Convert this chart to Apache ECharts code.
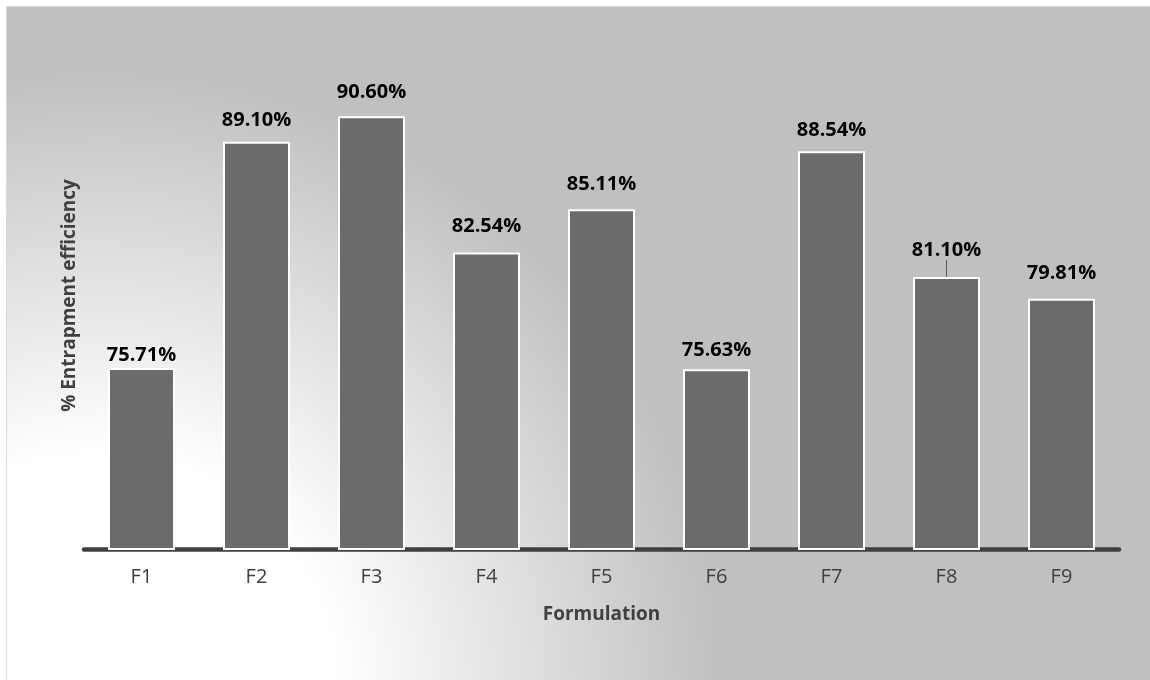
<!DOCTYPE html>
<html>
<head>
<meta charset="utf-8">
<style>html,body{margin:0;padding:0;background:#fff;}#c{width:1150px;height:680px;}</style>
<script src="https://cdn.jsdelivr.net/npm/echarts@6/dist/echarts.min.js"></script>
</head>
<body>
<div id="c"></div>
<script>
const categories = ['F1','F2','F3','F4','F5','F6','F7','F8','F9'];
const efficiency = [75.71, 89.10, 90.60, 82.54, 85.11, 75.63, 88.54, 81.10, 79.81];
const xTitle = 'Formulation';
const yTitle = '% Entrapment efficiency';

// label layout tweaks (pixels), as placed in the original
const labelLift = [0, -8, -11, -13, -12, -6, -8, -14, -12];

const chart = echarts.init(document.getElementById('c'), null, {renderer:'canvas'});
const FONT = '"Open Sans", "Noto Sans", sans-serif';
chart.setOption({
  animation: false,
  backgroundColor: '#ffffff',
  graphic: [{
    type: 'rect', z: -10, silent: true,
    shape: {x: 6.5, y: 6.5, width: 1150, height: 680},
    style: {
      fill: {type: 'radial', global: true, x: 100, y: 690, r: 620,
        colorStops: [{offset: 0, color: '#ffffff'}, {offset: 0.38, color: '#ffffff'}, {offset: 1, color: '#c0c0c0'}]},
      stroke: '#d9d9d9', lineWidth: 1
    }
  }],
  grid: {left: 84, right: 31, top: 42, bottom: 131},
  xAxis: {
    type: 'category', data: categories,
    axisLine: {lineStyle: {color: '#404040', width: 4.5}},
    axisTick: {show: false},
    axisLabel: {color: '#404040', fontFamily: FONT, fontSize: 20, margin: 18},
    name: xTitle, nameLocation: 'middle', nameGap: 56,
    nameTextStyle: {color: '#404040', fontFamily: FONT, fontSize: 19, fontWeight: 'bold'}
  },
  yAxis: {
    type: 'value', min: 65, max: 95,
    axisLine: {show: false}, axisTick: {show: false}, axisLabel: {show: false}, splitLine: {show: false},
    name: yTitle, nameLocation: 'middle', nameGap: 5,
    nameTextStyle: {color: '#404040', fontFamily: FONT, fontSize: 19, fontWeight: 'bold'}
  },
  series: [{
    type: 'bar',
    data: efficiency.map((v, i) => i === 7 ? {value: v, labelLine: {show: true}} : v),
    barWidth: 67,
    itemStyle: {color: '#6b6b6b', borderColor: '#ffffff', borderWidth: 2},
    label: {
      show: true, position: 'top', distance: 3,
      color: '#000000', fontFamily: FONT, fontSize: 20, fontWeight: 'bold',
      formatter: p => p.value.toFixed(2) + '%'
    },
    labelLine: {lineStyle: {color: '#595959', width: 1}},
    labelLayout: p => ({dy: labelLift[p.dataIndex]})
  }]
});
</script>
</body>
</html>
